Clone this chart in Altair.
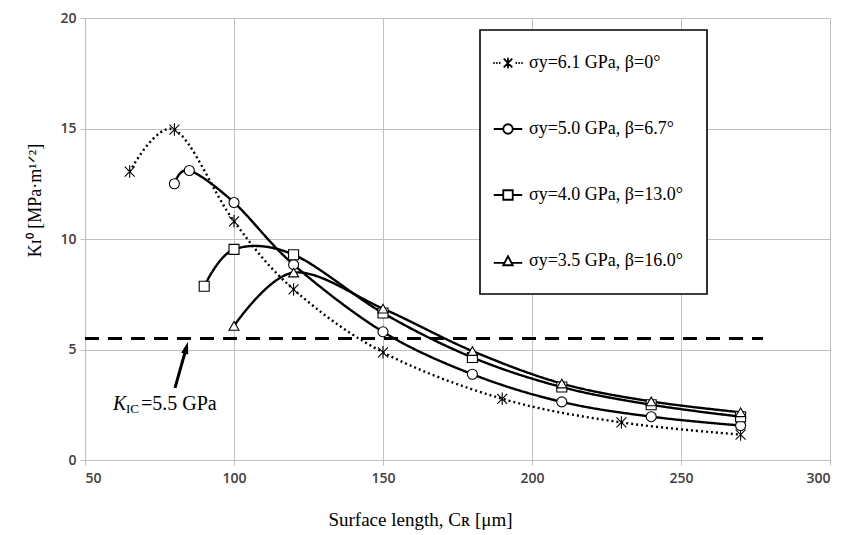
import altair as alt
import pandas as pd

# ---- data ----
labels = ["σy=6.1 GPa, β=0°", "σy=5.0 GPa, β=6.7°", "σy=4.0 GPa, β=13.0°", "σy=3.5 GPa, β=16.0°"]

x_s1 = [65, 80, 100, 120, 150, 190, 230, 270]
y_s1 = [13.05, 14.95, 10.8, 7.72, 4.87, 2.77, 1.70, 1.15]

x_s2 = [80, 85, 100, 120, 150, 180, 210, 240, 270]
y_s2 = [12.5, 13.1, 11.65, 8.84, 5.80, 3.88, 2.63, 1.96, 1.56]

x_s3 = [90, 100, 120, 150, 180, 210, 240, 270]
y_s3 = [7.86, 9.53, 9.29, 6.65, 4.64, 3.30, 2.50, 1.96]

x_s4 = [100, 120, 150, 180, 210, 240, 270]
y_s4 = [6.07, 8.48, 6.85, 4.93, 3.46, 2.65, 2.16]

kic_value = 5.5
kic_x = [50, 277.5]
arrow_from = [80.2, 3.26]
arrow_to = [84.0, 5.08]
ann_pos = [59.4, 2.25]

x_ticks = [50, 100, 150, 200, 250, 300]
y_ticks = [0, 5, 10, 15, 20]

rows = []
for lab, xs, ys in zip(labels, [x_s1, x_s2, x_s3, x_s4], [y_s1, y_s2, y_s3, y_s4]):
    for a, b in zip(xs, ys):
        rows.append({"series": lab, "CR": a, "K": b})
df = pd.DataFrame(rows)

df_kic = pd.DataFrame({"x": [kic_x[0]], "x2": [kic_x[1]], "y": [kic_value]})
df_arrow = pd.DataFrame({"x": [arrow_from[0]], "y": [arrow_from[1]], "x2": [arrow_to[0]], "y2": [arrow_to[1]]})
df_head = pd.DataFrame({"x": [arrow_to[0]], "y": [arrow_to[1]]})
df_ann = pd.DataFrame({"x": [ann_pos[0]], "y": [ann_pos[1]]})

# ---- styling ----
serif = "Liberation Serif"
grid_gray = "#c0c0c0"

x_scale = alt.Scale(domain=[50, 300], nice=False, zero=False)
y_scale = alt.Scale(domain=[0, 20], nice=False)

x_axis = alt.Axis(values=x_ticks, title="Surface length, Cʀ [μm]", titleFont=serif, titleFontSize=19,
                  titleFontWeight="normal", titleColor="black", titleX=335, titleY=50, titleAlign="center",
                  titleBaseline="top", labelPadding=6)
y_axis = alt.Axis(values=y_ticks, title="Kɪ⁰ [MPa·m¹ᐟ²]", titleFont=serif, titleFontSize=18,
                  titleFontWeight="normal", titleColor="black", titleX=-50, titleY=182, titleAlign="center",
                  titleBaseline="middle", titleAngle=270)

X = alt.X("CR:Q", scale=x_scale, axis=x_axis)
Y = alt.Y("K:Q", scale=y_scale, axis=y_axis)

asterisk = "M0,-1.25L0,1.25M-1,-1L1,1M-1,1L1,-1"
marker_shapes = [asterisk, "circle", "square", "triangle-up"]

leg_s1 = ("M-3.1,0L-2.8,0M-2.5,0L-2.2,0M-1.9,0L-1.6,0M1.6,0L1.9,0M2.2,0L2.5,0M2.8,0L3.1,0"
          "M0,-1.1L0,1.1M-0.9,-0.9L0.9,0.9M-0.9,0.9L0.9,-0.9")
leg_s2 = "M-3,0L-1,0M1,0L3,0M-1,0A1,1 0 1,0 1,0A1,1 0 1,0 -1,0Z"
leg_s3 = "M-3,0L-1,0M1,0L3,0M-1,-1L1,-1L1,1L-1,1Z"
leg_s4 = "M-3,0.4L-0.8,0.4M0.8,0.4L3,0.4M0,-1L1,0.9L-1,0.9Z"
legend_shapes = [leg_s1, leg_s2, leg_s3, leg_s4]

lines = alt.Chart(df).mark_line(interpolate="cardinal", color="black", strokeWidth=2.4).encode(
    x=X, y=Y, detail="series:N",
    strokeDash=alt.StrokeDash("series:N", scale=alt.Scale(domain=labels, range=[[2, 3], [1, 0], [1, 0], [1, 0]]),
                              legend=None),
)

points = alt.Chart(df).mark_point(filled=True, fill="white", stroke="black", strokeWidth=1.1, size=100, opacity=1).encode(
    x=X, y=Y,
    shape=alt.Shape("series:N", scale=alt.Scale(domain=labels, range=marker_shapes), legend=None),
)

legend_layer = alt.Chart(df).mark_point(opacity=0, size=90).encode(
    x=X, y=Y,
    shape=alt.Shape("series:N", scale=alt.Scale(domain=labels, range=legend_shapes),
                    legend=alt.Legend(title=None, orient="none", legendX=395, legendY=12, direction="vertical",
                                      strokeColor="black", fillColor="white", padding=24, rowPadding=48,
                                      labelFont=serif, labelFontSize=18, labelColor="black", labelLimit=300,
                                      symbolSize=90, symbolStrokeColor="black", symbolFillColor="white",
                                      symbolStrokeWidth=1.8, symbolOpacity=1, symbolOffset=-5, labelOffset=12)),
)

kic_line = alt.Chart(df_kic).mark_rule(color="black", strokeWidth=3, strokeDash=[14, 9]).encode(
    x=alt.X("x:Q", scale=x_scale), x2="x2:Q", y=alt.Y("y:Q", scale=y_scale))

arrow = alt.Chart(df_arrow).mark_rule(color="black", strokeWidth=3).encode(
    x=alt.X("x:Q", scale=x_scale), y=alt.Y("y:Q", scale=y_scale), x2="x2:Q", y2="y2:Q")

head = alt.Chart(df_head).mark_point(shape="M0,-1L0.6,1L-0.6,1Z", filled=True, color="black", size=150,
                                     angle=15.5, opacity=1).encode(
    x=alt.X("x:Q", scale=x_scale), y=alt.Y("y:Q", scale=y_scale))

ann_base = alt.Chart(df_ann).encode(x=alt.X("x:Q", scale=x_scale), y=alt.Y("y:Q", scale=y_scale))
ann_k = ann_base.mark_text(text="K", font=serif, fontSize=20, fontStyle="italic", align="left",
                           baseline="alphabetic", color="black")
ann_ic = ann_base.mark_text(text="IC", font=serif, fontSize=13, align="left", baseline="alphabetic",
                            dx=13, dy=3, color="black")
ann_val = ann_base.mark_text(text="=5.5 GPa", font=serif, fontSize=20, align="left", baseline="alphabetic",
                             dx=28, color="black")

chart = alt.layer(kic_line, lines, points, legend_layer, arrow, head, ann_k, ann_ic, ann_val).resolve_scale(
    shape="independent"
).properties(
    width=745, height=442,
    autosize=alt.AutoSizeParams(type="none"),
    padding={"left": 77, "top": 10, "right": 7, "bottom": 70},
).configure_view(strokeWidth=0).configure_axis(
    gridColor=grid_gray, domainColor=grid_gray, tickColor=grid_gray, tickSize=5,
    labelFont="Open Sans", labelFontSize=14, labelFontWeight=600, labelColor="#404040", labelPadding=4,
    gridWidth=1, domainWidth=1.2,
).configure_legend(strokeWidth=1.6)

chart.save("out.html", embed_options={"renderer": "svg", "actions": False})
